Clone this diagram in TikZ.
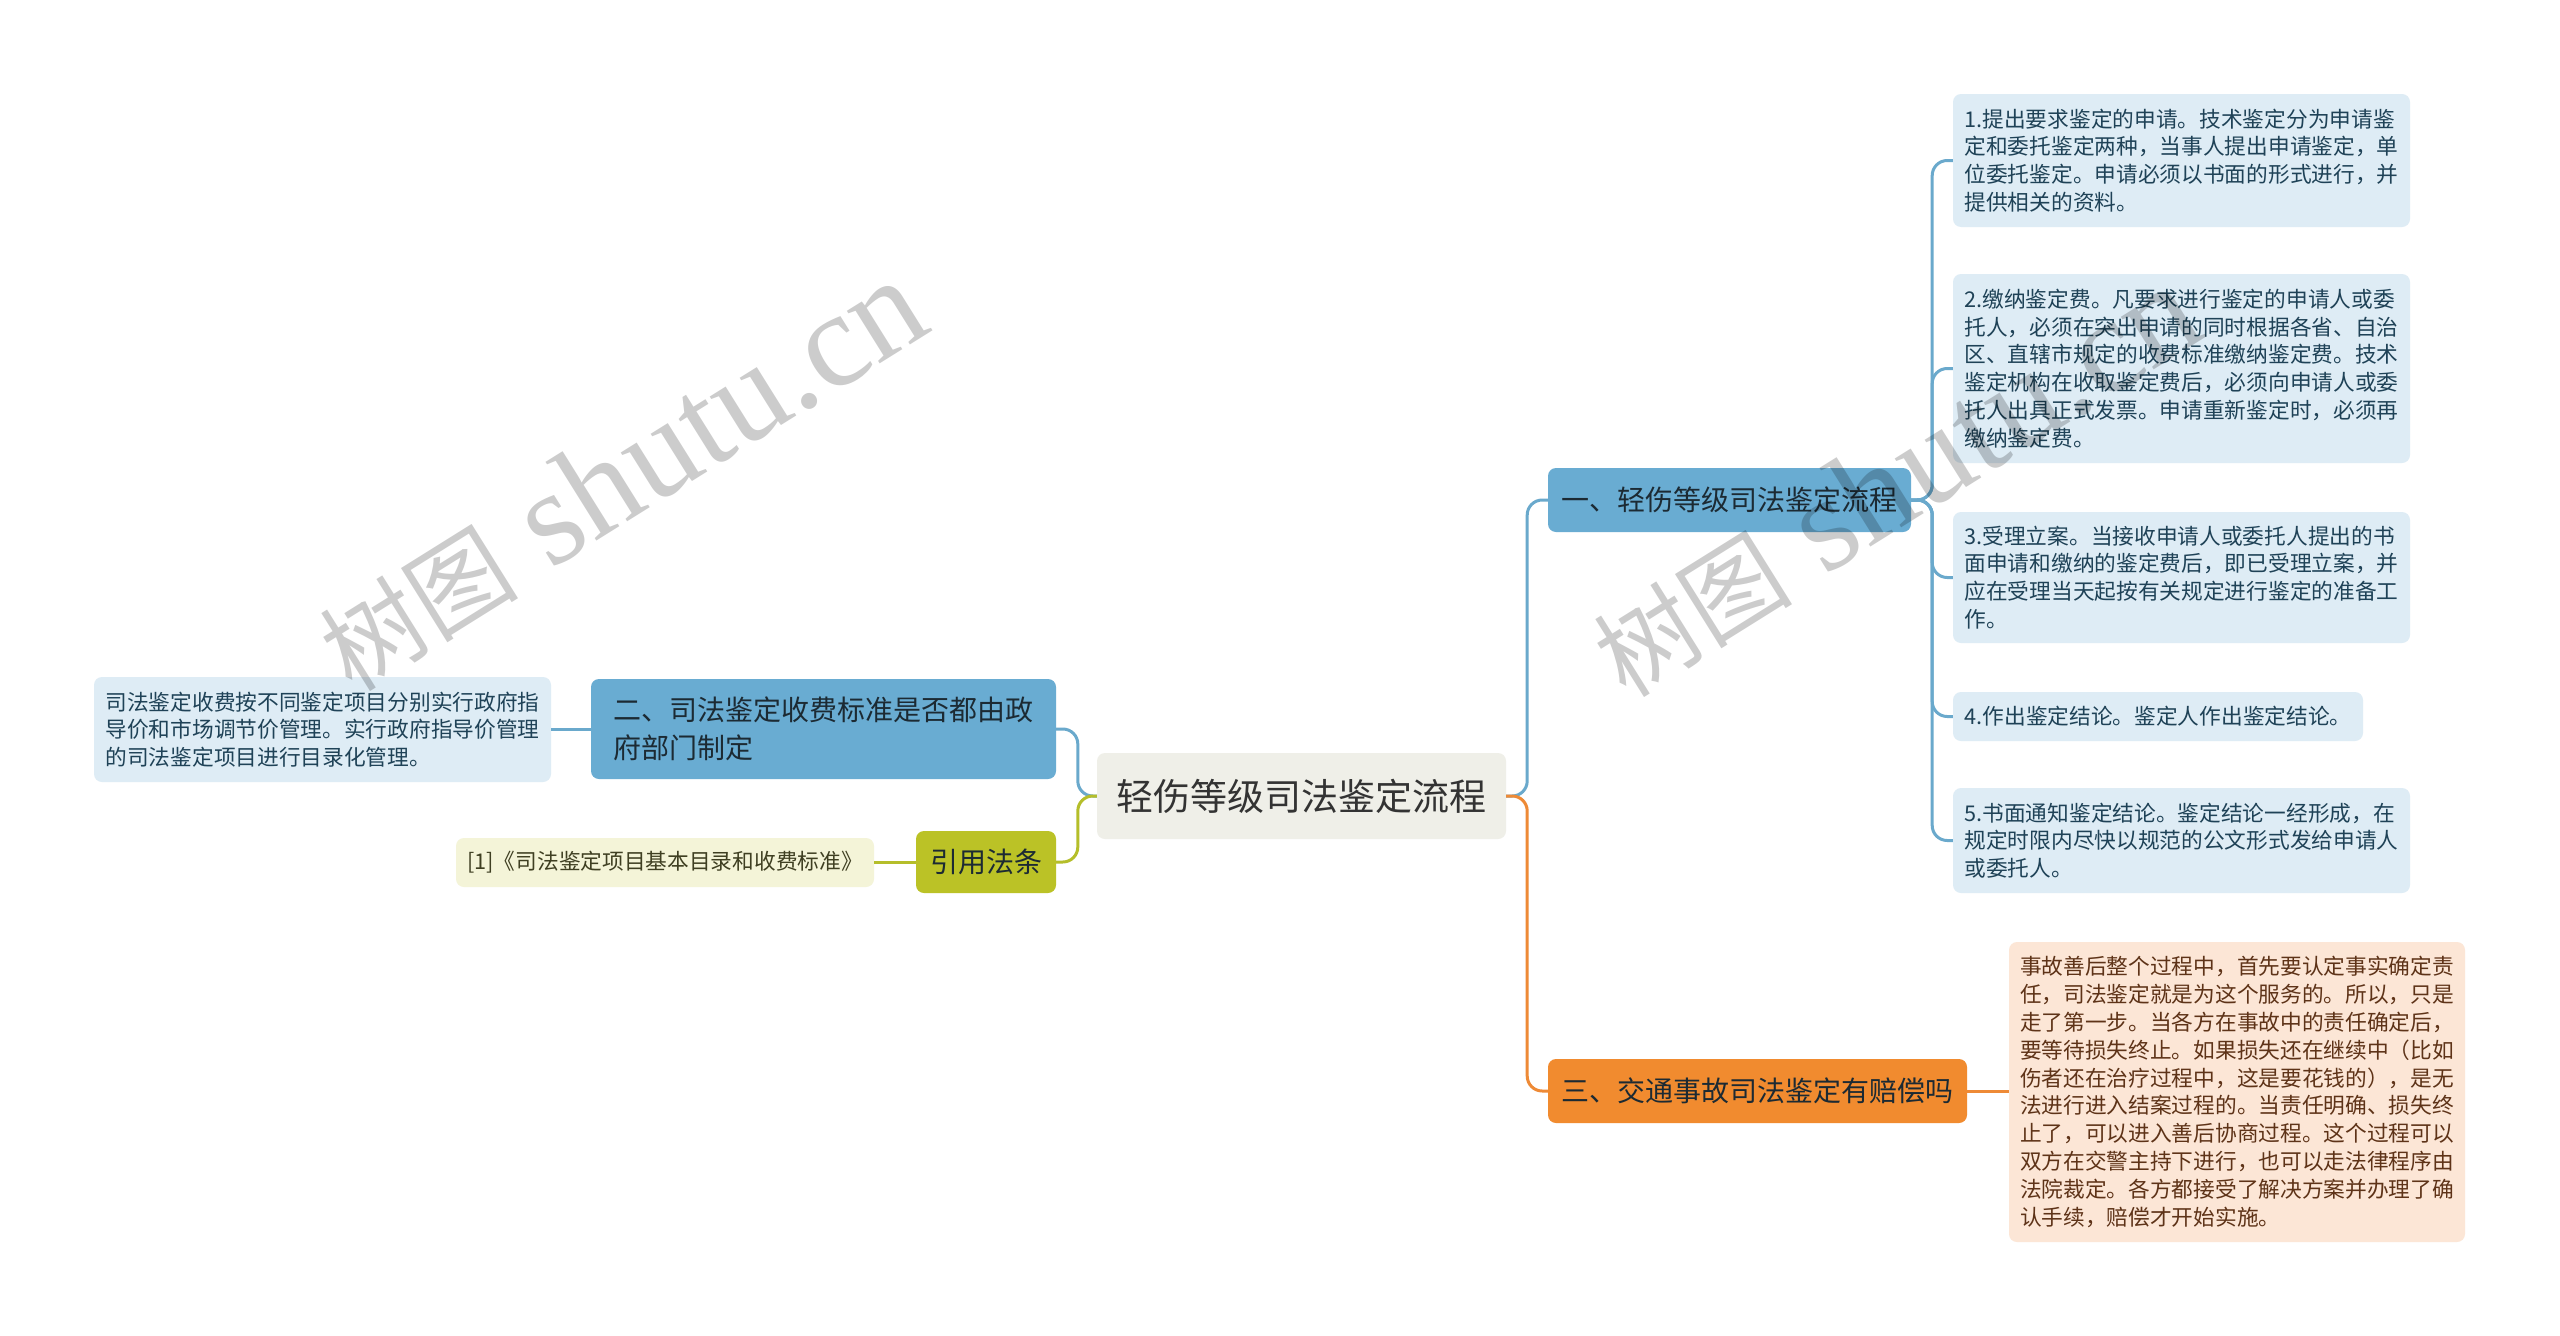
\documentclass[tikz,border=0pt]{standalone}
\usepackage{fontspec}
\setmainfont{Noto Sans CJK SC}
\newfontfamily\wmserif{Liberation Serif}
\newfontfamily\wmcjk{Noto Sans CJK SC}
\definecolor{rootfill}{HTML}{EFEFE8}
\definecolor{roottext}{HTML}{333333}
\definecolor{bluefill}{HTML}{69ACD2}
\definecolor{orangefill}{HTML}{F18B2F}
\definecolor{greenfill}{HTML}{BBC226}
\definecolor{maintext}{HTML}{1C2A33}
\definecolor{leafbluefill}{HTML}{DEECF5}
\definecolor{leafbluetext}{HTML}{1F4257}
\definecolor{leaforangefill}{HTML}{FCE6D6}
\definecolor{leaforangetext}{HTML}{5E3318}
\definecolor{leafyellowfill}{HTML}{F4F4D8}
\definecolor{leafyellowtext}{HTML}{3F3F22}
\definecolor{blueline}{HTML}{6AA9CC}
\definecolor{orangeline}{HTML}{EE8A36}
\definecolor{greenline}{HTML}{B5BE2A}
\begin{document}
\begin{tikzpicture}[x=1pt,y=-1pt,
  boxbase/.style={rounded corners=8pt, inner sep=0pt, align=left},
  rootbox/.style={boxbase, fill=rootfill, text=roottext, font=\fontsize{37}{44}\selectfont},
  mainbox/.style={boxbase, text=maintext, font=\fontsize{28}{37.5}\selectfont},
  leafbox/.style={boxbase, font=\fontsize{21.7}{27.8}\selectfont},
  leafblue/.style={leafbox, fill=leafbluefill, text=leafbluetext},
  leaforange/.style={leafbox, fill=leaforangefill, text=leaforangetext},
  leafyellow/.style={leafbox, fill=leafyellowfill, text=leafyellowtext},
  conn/.style={line width=3pt, rounded corners=15pt},
  wmark/.style={rotate=32, anchor=base west, inner sep=0pt, text=black, text opacity=0.2}
]
\useasboundingbox[fill=white] (0,0) rectangle (2560,1336);

% nodes
\node[rootbox, minimum width=409pt, minimum height=86pt] (C) at (1301.5,796) {轻伤等级司法鉴定流程};
\node[mainbox, fill=bluefill, minimum width=363pt, minimum height=64pt] (A) at (1729.5,500) {一、轻伤等级司法鉴定流程};
\node[mainbox, fill=orangefill, minimum width=419pt, minimum height=64pt] (B) at (1757.5,1091) {三、交通事故司法鉴定有赔偿吗};
\node[mainbox, fill=bluefill, minimum width=465pt, minimum height=100pt] (D) at (823.5,729) {二、司法鉴定收费标准是否都由政\\府部门制定};
\node[mainbox, fill=greenfill, minimum width=140pt, minimum height=62pt] (E) at (986,862) {引用法条};

\node[leafblue, minimum width=457pt, minimum height=133pt] (L1) at (2181.5,160.5) {1.提出要求鉴定的申请。技术鉴定分为申请鉴\\定和委托鉴定两种，当事人提出申请鉴定，单\\位委托鉴定。申请必须以书面的形式进行，并\\提供相关的资料。};
\node[leafblue, minimum width=457pt, minimum height=189pt] (L2) at (2181.5,368.5) {2.缴纳鉴定费。凡要求进行鉴定的申请人或委\\托人，必须在突出申请的同时根据各省、自治\\区、直辖市规定的收费标准缴纳鉴定费。技术\\鉴定机构在收取鉴定费后，必须向申请人或委\\托人出具正式发票。申请重新鉴定时，必须再\\缴纳鉴定费。};
\node[leafblue, minimum width=457pt, minimum height=131pt] (L3) at (2181.5,577.5) {3.受理立案。当接收申请人或委托人提出的书\\面申请和缴纳的鉴定费后，即已受理立案，并\\应在受理当天起按有关规定进行鉴定的准备工\\作。};
\node[leafblue, minimum width=410pt, minimum height=49pt] (L4) at (2158,716.5) {4.作出鉴定结论。鉴定人作出鉴定结论。};
\node[leafblue, minimum width=457pt, minimum height=105pt] (L5) at (2181.5,840.5) {5.书面通知鉴定结论。鉴定结论一经形成，在\\规定时限内尽快以规范的公文形式发给申请人\\或委托人。};
\node[leaforange, minimum width=456pt, minimum height=300pt] (L6) at (2237,1092) {事故善后整个过程中，首先要认定事实确定责\\任，司法鉴定就是为这个服务的。所以，只是\\走了第一步。当各方在事故中的责任确定后，\\要等待损失终止。如果损失还在继续中（比如\\伤者还在治疗过程中，这是要花钱的），是无\\法进行进入结案过程的。当责任明确、损失终\\止了，可以进入善后协商过程。这个过程可以\\双方在交警主持下进行，也可以走法律程序由\\法院裁定。各方都接受了解决方案并办理了确\\认手续，赔偿才开始实施。};
\node[leafblue, minimum width=457pt, minimum height=105pt] (L7) at (322.5,729.5) {司法鉴定收费按不同鉴定项目分别实行政府指\\导价和市场调节价管理。实行政府指导价管理\\的司法鉴定项目进行目录化管理。};
\node[leafyellow, minimum width=418pt, minimum height=49pt] (L8) at (665,862.5) {[1]《司法鉴定项目基本目录和收费标准》};

% connectors: root to main topics
\draw[conn, blueline] (C.east) -- ++(21,0) |- (A.west);
\draw[conn, orangeline] (C.east) -- ++(21,0) |- (B.west);
\draw[conn, blueline] (C.west) -- ++(-19,0) |- (D.east);
\draw[conn, greenline] (C.west) -- ++(-19,0) |- (E.east);

% topic one to its leaves
\foreach \leaf in {L1,L2,L3,L4,L5}{
  \draw[conn, blueline] (A.east) -- ++(21,0) |- (\leaf.west);
}
\draw[conn, orangeline] (B.east) -- (B.east -| L6.west);
\draw[conn, blueline] (D.west) -- (D.west -| L7.east);
\draw[conn, greenline] (E.west) -- (E.west -| L8.east);

% watermarks
\node[wmark] (W1) at (352,694) {\wmcjk\fontsize{100}{100}\selectfont 树图\wmserif\fontsize{135}{135}\selectfont\ shutu.cn};
\node[wmark] (W2) at (1626,700) {\wmcjk\fontsize{100}{100}\selectfont 树图\wmserif\fontsize{135}{135}\selectfont\ shutu.cn};
\end{tikzpicture}
\end{document}
